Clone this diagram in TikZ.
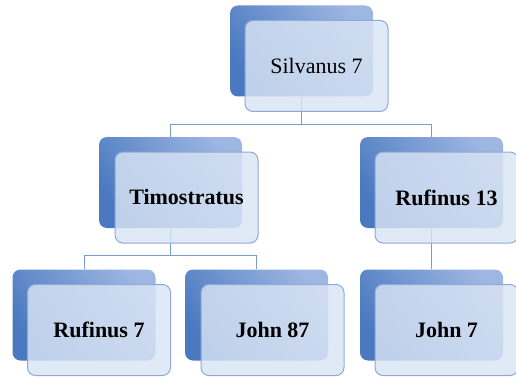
\documentclass[tikz,border=0pt]{standalone}
\usepackage{fontspec}
\setmainfont{Liberation Serif}
\usepackage{tikz}
\usetikzlibrary{positioning,calc,backgrounds}
\definecolor{bkdark}{HTML}{4A79C0}
\definecolor{bklight}{HTML}{9DB6E2}
\definecolor{frontfill}{HTML}{D9E4F4}
\definecolor{frontline}{HTML}{8CA9DA}
\definecolor{linkcol}{HTML}{7A9BCE}
\tikzset{
  every node/.style={font=\fontsize{22}{26}\selectfont},
  backbox/.style={rectangle, rounded corners=8pt, minimum width=143pt, minimum height=91pt,
    inner sep=0pt, top color=bklight, bottom color=bkdark, shading angle=-55},
  frontbox/.style={rectangle, rounded corners=8pt, minimum width=143pt, minimum height=91pt,
    inner sep=0pt, draw=frontline, line width=1pt, fill=frontfill, fill opacity=0.82,
    text opacity=1, align=center},
  link/.style={draw=linkcol, line width=1pt}
}

\begin{document}
\begin{tikzpicture}[x=1pt, y=-1pt]
\useasboundingbox (0,0) rectangle (516,377);

% Back boxes
\node[backbox] (silvbk) at (301.5,51) {};
\node[backbox] (timobk) at (170.5,182.5) {};
\node[backbox] (ruf13bk) at (431.5,182.5) {};
\node[backbox] (ruf7bk) at (84,315) {};
\node[backbox] (john87bk) at (256.5,315) {};
\node[backbox] (john7bk) at (431.5,315) {};

% Front boxes with the names, offset down and right
\node[frontbox] (silv) at ($(silvbk)+(15,15)$) {Silvanus 7};
\node[frontbox, font=\fontsize{22}{26}\selectfont\bfseries] (timo) at ($(timobk)+(16,15)$) {Timostratus};
\node[frontbox, font=\fontsize{22}{26}\selectfont\bfseries] (ruf13) at ($(ruf13bk)+(15,15)$) {Rufinus 13};
\node[frontbox, font=\fontsize{22}{26}\selectfont\bfseries] (ruf7) at ($(ruf7bk)+(15,15)$) {Rufinus 7};
\node[frontbox, font=\fontsize{22}{26}\selectfont\bfseries] (john87) at ($(john87bk)+(16,15)$) {John 87};
\node[frontbox, font=\fontsize{22}{26}\selectfont\bfseries] (john7) at ($(john7bk)+(15,15)$) {John 7};

% Connectors, behind the boxes
\begin{scope}[on background layer]
\draw[link] (silvbk.south) -- ++(0,28) -| (timobk.north);
\draw[link] (silvbk.south) -- ++(0,28) -| (ruf13bk.north);
\draw[link] (timobk.south) -- ++(0,27) -| (ruf7bk.north);
\draw[link] (timobk.south) -- ++(0,27) -| (john87bk.north);
\draw[link] (ruf13bk.south) -- (john7bk.north);
\end{scope}

\end{tikzpicture}
\end{document}
